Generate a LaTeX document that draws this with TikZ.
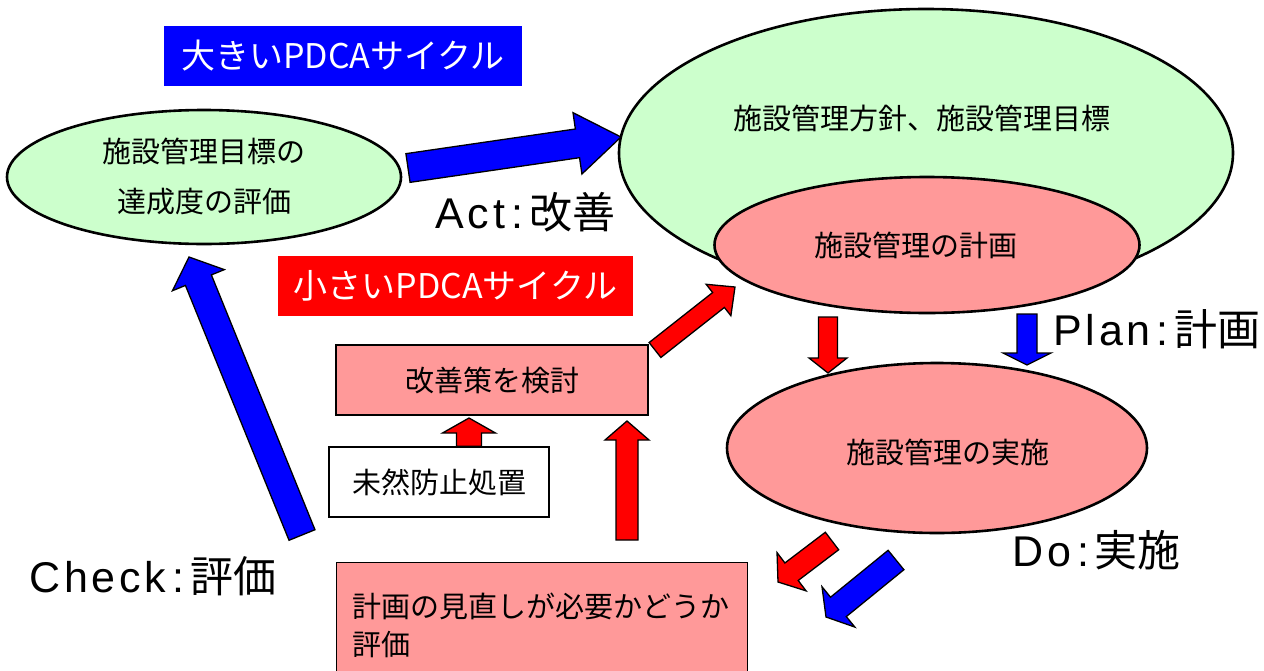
\documentclass[tikz,border=0pt]{standalone}
\usepackage{fontspec}
\setmainfont{Noto Sans CJK JP}
\newfontfamily\latf[LetterSpace=9]{Liberation Sans}
\usetikzlibrary{shapes.geometric,calc}
\definecolor{pgreen}{HTML}{CCFFCC}
\definecolor{ppink}{HTML}{FF9999}
\definecolor{pblue}{HTML}{0000FF}
\definecolor{pred}{HTML}{FF0000}
\tikzset{
  ell/.style={ellipse, draw=black, line width=2.6pt, inner sep=0pt},
  box/.style={rectangle, draw=black, line width=1.3pt, inner sep=0pt},
  body/.style={font=\fontsize{29}{38}\selectfont},
  tag/.style={rectangle, inner sep=0pt, text=white, font=\fontsize{34}{40}\selectfont},
  biglab/.style={inner sep=0pt, anchor=base west, font=\fontsize{43}{50}\selectfont},
  arrowline/.style={draw=black, line width=1.3pt, line join=miter},
}
% #1 fill, #2 tail, #3 tip, #4 shaft half width, #5 head half width, #6 head length
\newcommand\blockarr[6]{%
  \coordinate (bh) at ($(#3)!#6!(#2)$);
  \filldraw[arrowline, fill=#1]
    ($(#2)!#4!90:(#3)$) -- ($(bh)!#4!-90:(#2)$) -- ($(bh)!#5!-90:(#2)$) -- (#3)
    -- ($(bh)!#5!90:(#2)$) -- ($(bh)!#4!90:(#2)$) -- ($(#2)!#4!-90:(#3)$) -- cycle;
}
\newcommand\cyclab[2]{{\latf #1\kern6pt:\kern6pt}#2}
\begin{document}
\begin{tikzpicture}[x=1pt, y=-1pt]
\useasboundingbox (0,0) rectangle (1264,670);

% tags
\node[tag, fill=pblue, minimum width=358pt, minimum height=60pt] (bigtag) at (343,56) {大きいPDCAサイクル};
\node[tag, fill=pred, minimum width=355pt, minimum height=60pt] (smalltag) at (455.5,286) {小さいPDCAサイクル};

% ellipses
\node[ell, fill=pgreen, minimum width=394pt, minimum height=134pt, align=center,
      font=\fontsize{29}{50}\selectfont] (goal) at (204,177) {施設管理目標の\\達成度の評価};
\node[ell, fill=pgreen, minimum width=614pt, minimum height=288pt] (policy) at (926,153) {};
\node[body] (policytext) at (922,118) {施設管理方針、施設管理目標};
\node[ell, fill=ppink, minimum width=425pt, minimum height=136pt] (plan) at (927,245) {};
\node[body] (plantext) at (916,245) {施設管理の計画};
\node[ell, fill=ppink, minimum width=420pt, minimum height=170pt] (do) at (937,448) {};
\node[body] (dotext) at (948,452) {施設管理の実施};

% boxes
\node[box, fill=ppink, minimum width=312pt, minimum height=70pt, body] (improve) at (492,380) {改善策を検討};
\node[box, fill=white, minimum width=220pt, minimum height=70pt, body] (prevent) at (439,482) {未然防止処置};
\node[box, fill=ppink, minimum width=411pt, minimum height=125pt, anchor=north west,
      text width=379pt, inner xsep=16pt, align=left, body] (review) at (336,562) {計画の見直しが必要かどうか\\評価\\[30pt]};

% big labels
\node[biglab] (act) at (435,228) {\cyclab{Act}{改善}};
\node[biglab] (check) at (29,592) {\cyclab{Check}{評価}};
\node[biglab] (plantxt) at (1053,345) {\cyclab{Plan}{計画}};
\node[biglab] (dotxt) at (1012,566) {\cyclab{Do}{実施}};

% arrow end points
\coordinate (actS) at (408,168);   \coordinate (actE) at (621,137);
\coordinate (chkS) at (302,535);   \coordinate (chkE) at (189,257);
\coordinate (impS) at (655,350);   \coordinate (impE) at (735,287);
\coordinate (prvS) at (prevent.north -| 469,0); \coordinate (prvE) at (469,418);
\coordinate (revS) at (627,540);   \coordinate (revE) at (627,421);
\coordinate (rdS) at (828,317);    \coordinate (rdE) at (828,373);
\coordinate (bdS) at (1027,314);   \coordinate (bdE) at (1027,365);
\coordinate (rdoS) at (832,541);   \coordinate (rdoE) at (778,582);
\coordinate (bdoS) at (896,560);   \coordinate (bdoE) at (826,617);

% arrows
\blockarr{pblue}{actS}{actE}{14.5pt}{31pt}{44pt}
\blockarr{pblue}{chkS}{chkE}{14pt}{28pt}{25pt}
\blockarr{pred}{impS}{impE}{9.5pt}{20pt}{21pt}
\blockarr{pred}{prvS}{prvE}{12.5pt}{26.5pt}{15pt}
\blockarr{pred}{revS}{revE}{11pt}{22pt}{19pt}
\blockarr{pred}{rdS}{rdE}{9.5pt}{19pt}{15pt}
\blockarr{pblue}{bdS}{bdE}{10pt}{24pt}{12pt}
\blockarr{pred}{rdoS}{rdoE}{11pt}{24pt}{17pt}
\blockarr{pblue}{bdoS}{bdoE}{12.5pt}{26pt}{16pt}
\end{tikzpicture}
\end{document}
